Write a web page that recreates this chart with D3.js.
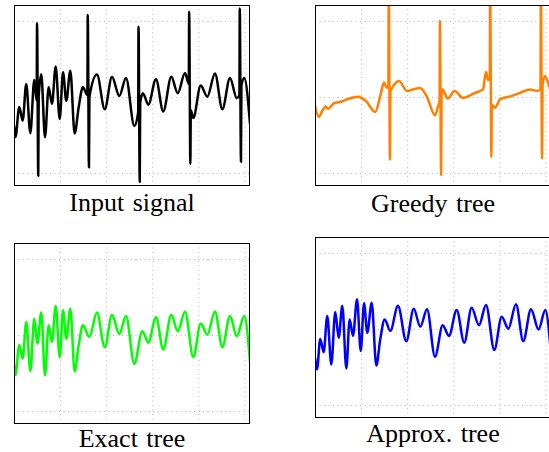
<!DOCTYPE html>
<html>
<head>
<meta charset="utf-8">
<script src="https://cdn.jsdelivr.net/npm/d3@7/dist/d3.min.js"></script>
<style>
    body { margin: 0; background: #fff; }
    svg { display: block; }
</style>
</head>
<body>
<div id="chart"></div>
<script>
// captions and grid positions (sample index / amplitude)
const captions = ["Input signal", "Greedy tree", "Exact tree", "Approx. tree"];
const gridX = [50, 100, 150, 200, 250];
const gridY = [-2, 0, 2];

// [sample, amplitude], spikes included as they appear
const inputSignal = [
    [0, -0.75], [1.6, -1.05], [5.7, -0.26], [9.4, -0.62], [13.3, 0.34], [17.7, -0.95], [22, 0.45],
    [24.6, -0.1], [25, 1.94], [26.3, -2.07], [26.8, 0.0], [29.6, 0.6], [33.6, -1.06],
    [37.6, 0.26], [41.2, -0.18], [45.2, 0.8], [49.6, -0.58], [53.2, 0.65], [56.7, -0.1],
    [61.1, 0.69], [65.8, -0.96], [70.2, -0.26], [74.8, 0.26], [79.6, 0.05], [80, 2.16],
    [81.3, -1.85], [81.8, 0.0], [90, 0.59], [98.4, -0.32], [106.3, 0.53], [114.2, 0.03],
    [121.5, 0.5], [130.5, -0.76], [134.7, -0.4], [135.1, 1.85], [136.4, -2.23], [136.9, -0.15],
    [139.8, 0.1], [145.7, -0.2], [154, 0.47], [161.9, -0.38], [170.6, 0.53], [177.6, 0.1],
    [185.5, 0.63], [189.6, 0.35], [190, 2.24], [191.3, -1.76], [191.8, -0.35], [194.5, -0.55],
    [202.5, 0.3], [209.7, 0.01], [218, 0.62], [226, -0.32], [234.3, 0.5], [241.6, -0.03],
    [244.5, 0.05], [244.9, 2.33], [246.2, -1.7], [246.7, 0.3], [249.8, 0.5], [256, -0.71]
];

const greedyTree = [
    [0, -0.22], [4, -0.52], [8, -0.36], [11.6, -0.25], [14.1, -0.31], [21.4, -0.15], [26, -0.14],
    [35, -0.06], [46.6, 0.01], [55, -0.1], [65.4, -0.39], [71, 0.05], [74.8, 0.38], [78.1, 0.24],
    [79.6, 0.3], [80, 2.9], [81.3, -1.64], [81.8, 0.15], [82.8, 0.2], [91.1, 0.42], [99.8, 0.16],
    [106.3, 0.2], [114.2, 0.24], [121.5, 0.0], [130.2, -0.48], [133.4, -0.25], [135.1, -0.1],
    [135.5, 2.0], [136.8, -2.05], [137.3, 0.1], [138.3, 0.2], [143.9, -0.04], [151.5, 0.16],
    [160.5, -0.02], [173.6, 0.11], [182.2, 0.2], [185.5, 0.66], [187.7, 0.45], [189.6, 0.5],
    [190, 2.9], [191.3, -1.58], [191.8, -0.2], [195.2, -0.28], [200.7, -0.06], [213.7, 0.03],
    [222.4, 0.11], [233.2, 0.2], [240.8, 0.16], [244.6, 0.2], [245, 2.9], [246.3, -1.61],
    [246.8, 0.3], [249.5, 0.55], [253.8, 0.3], [256, 0.1]
];

const exactTree = [
    [0, -0.75], [1.6, -1.05], [5.7, -0.26], [9.4, -0.62], [13.3, 0.34], [17.7, -0.95], [22, 0.43],
    [25.3, -0.23], [29.6, 0.59], [33.6, -1.06], [37.6, 0.26], [41.2, -0.18], [45.2, 0.76],
    [49.6, -0.58], [53.2, 0.65], [56.7, -0.1], [61.1, 0.69], [65.8, -0.96], [70.2, -0.26],
    [74.8, 0.26], [81.7, -0.05], [90, 0.59], [98.4, -0.32], [106.3, 0.53], [114.2, 0.03],
    [121.5, 0.5], [130.5, -0.76], [139.2, 0.1], [145.7, -0.2], [154, 0.47], [161.9, -0.38],
    [170.6, 0.53], [177.6, 0.1], [185.5, 0.61], [194.5, -0.58], [202.5, 0.3], [209.7, 0.01],
    [218, 0.62], [226, -0.32], [234.3, 0.5], [241.6, -0.03], [249.8, 0.5], [256, -0.71]
];

const approxTree = [
    [0, -0.75], [2.2, -1.06], [5.7, -0.26], [9.4, -0.61], [13.3, 0.34], [17.7, -0.93], [22, 0.45],
    [25.7, -0.23], [29.6, 0.61], [34, -1.04], [37.6, 0.25], [41.2, -0.18], [45.6, 0.78],
    [49.6, -0.58], [53.2, 0.68], [56.7, -0.1], [61.5, 0.69], [66.5, -0.96], [70.8, -0.27],
    [75.6, 0.25], [81.7, -0.05], [90, 0.61], [99, -0.32], [107.1, 0.53], [114.2, 0.06],
    [121.5, 0.52], [130.2, -0.73], [138.5, 0.1], [145.3, -0.18], [153.7, 0.5], [161.9, -0.36],
    [169.9, 0.56], [177.9, 0.1], [185.5, 0.63], [194.5, -0.55], [202.5, 0.32], [209.7, 0.01],
    [218, 0.65], [225.9, -0.32], [234.3, 0.52], [242.5, -0.01], [249.8, 0.5], [256, -0.65]
];

const series = [inputSignal, greedyTree, exactTree, approxTree];
const colors = ["#000000", "#ff8000", "#00ff00", "#0000ff"];

const width = 549, height = 452;
const pw = 236, ph = 181;
const layout = [
    {left: 14, top: 5, base: 211},
    {left: 315, top: 5, base: 212},
    {left: 14, top: 243, base: 447},
    {left: 315, top: 237, base: 442}
];

const svg = d3.select("#chart")
    .append("svg")
    .attr("width", width)
    .attr("height", height)
    .attr("viewBox", "0 0 " + width + " " + height);

const x = d3.scaleLinear().domain([0, 256]).range([0, pw]);
const y = d3.scaleLinear().domain([-2.34, 2.42]).range([ph, 0]);

const line = d3.line()
    .x(d => x(d[0]))
    .y(d => y(d[1]))
    .curve(d3.curveMonotoneX);

series.forEach((data, i) => {
    const p = layout[i];
    const g = svg.append("g").attr("transform", "translate(" + p.left + "," + p.top + ")");

    svg.append("clipPath").attr("id", "clip" + i)
        .append("rect").attr("width", pw).attr("height", ph);

    // dotted grid
    g.append("g")
        .attr("class", "grid")
        .attr("transform", "translate(0," + ph + ")")
        .call(d3.axisBottom(x).tickValues(gridX).tickSize(-ph).tickFormat(""));
    g.append("g")
        .attr("class", "grid")
        .call(d3.axisLeft(y).tickValues(gridY).tickSize(-pw).tickFormat(""));
    g.selectAll(".grid .domain").remove();
    g.selectAll(".grid line")
        .attr("stroke", "#a0a0a0")
        .attr("stroke-width", 0.8)
        .attr("stroke-dasharray", "1,3.5");

    g.append("path")
        .datum(data)
        .attr("clip-path", "url(#clip" + i + ")")
        .attr("fill", "none")
        .attr("stroke", colors[i])
        .attr("stroke-width", 2.5)
        .attr("stroke-linejoin", "round")
        .attr("d", line);

    g.append("rect")
        .attr("x", 0.5).attr("y", 0.5)
        .attr("width", pw - 1).attr("height", ph - 1)
        .attr("fill", "none")
        .attr("stroke", "#000")
        .attr("stroke-width", 1);

    svg.append("text")
        .attr("x", p.left + pw / 2)
        .attr("y", p.base)
        .attr("text-anchor", "middle")
        .style("font-family", "'Liberation Serif', 'Times New Roman', serif")
        .style("font-size", "26px")
        .style("word-spacing", "2px")
        .text(captions[i]);
});
</script>
</body>
</html>
